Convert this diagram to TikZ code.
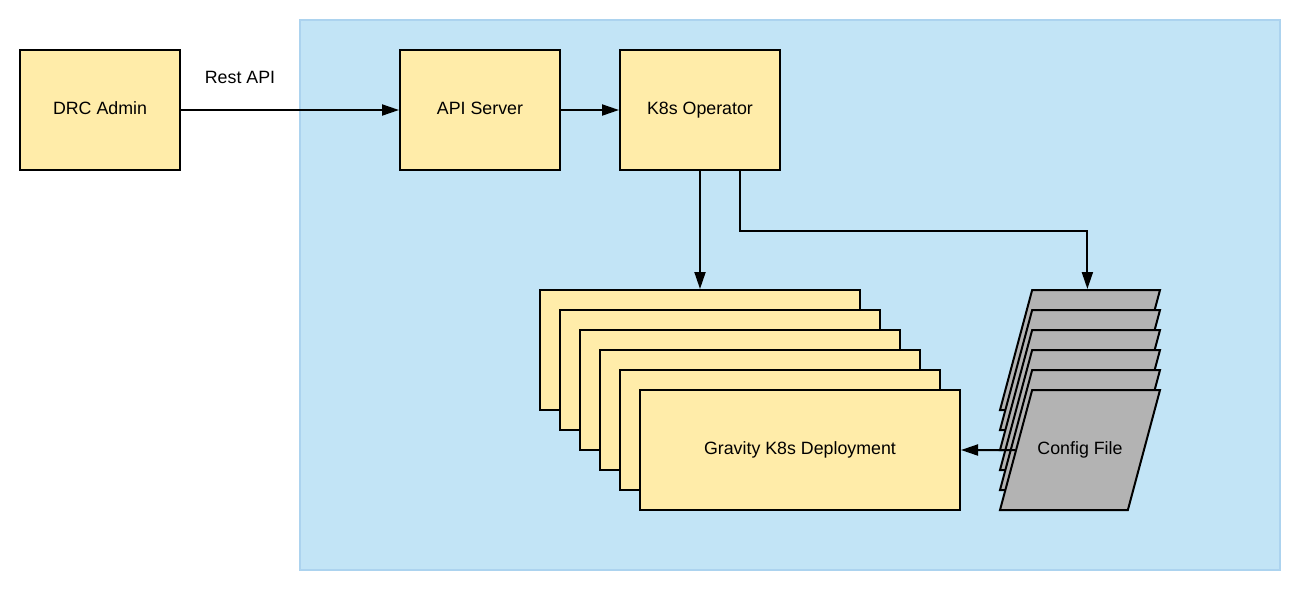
\documentclass[tikz,border=0pt]{standalone}
\usepackage{fontspec}
\setmainfont{Liberation Sans}
\usetikzlibrary{arrows.meta,positioning,shapes.geometric}

\definecolor{boxyellow}{HTML}{FFECA9}
\definecolor{cfggray}{HTML}{B3B3B3}
\definecolor{clusterfill}{HTML}{C2E4F6}
\definecolor{clusterdraw}{HTML}{ACD3EF}

\begin{document}
\begin{tikzpicture}[
    x=1pt, y=-1pt,
    node distance=58pt,
    font=\fontsize{17.8}{21}\selectfont,
    block/.style={rectangle, minimum width=160pt, minimum height=120pt,
      text height=13pt, text depth=5pt,
      line width=2pt, draw=black, fill=boxyellow},
    deploy/.style={block, minimum width=320pt},
    cfgfile/.style={trapezium, trapezium left angle=75, trapezium right angle=105,
      trapezium stretches body=true, minimum width=160pt,
      text height=13pt, text depth=5pt, inner ysep=51pt,
      line width=2pt, draw=black, fill=cfggray},
    flow/.style={-{Triangle[length=17pt, width=11pt]}, line width=2pt}
  ]

  \useasboundingbox (0,0) rectangle (1300,590);

  % the cluster in the background
  \node (cluster) [rectangle, minimum width=980pt, minimum height=550pt,
                   line width=2pt, draw=clusterdraw, fill=clusterfill] at (790,295) {};

  % layout the top row
  \node (admin)   [block] at (100,110)          {DRC Admin};
  \node (apisrv)  [block] at (480,110)          {API Server};
  \node (oper)    [block, right=of apisrv]      {K8s Operator};

  \node (restlbl) at (240,77)                   {Rest API};

  % stacked deployments and config files
  \foreach \i in {1,...,5} {
    \node (dep\i) [deploy]  at (680+20*\i, 330+20*\i) {};
  }
  \node (dep6)    [deploy]  at (800,450)        {Gravity K8s Deployment};

  \foreach \i in {1,...,5} {
    \node (cfg\i) [cfgfile] at (1080, 330+20*\i) {};
  }
  \node (cfg6)    [cfgfile] at (1080,450)       {Config File};

  \draw[flow] (admin)  -- (apisrv);
  \draw[flow] (apisrv) -- (oper);
  \draw[flow] (oper)   -- (dep1);
  \draw[flow] ([xshift=40pt]oper.south) -- ++(0,60) -| ([xshift=56pt]cfg1.top left corner);
  \draw[flow] (cfg6.west) -- (dep6.east);

\end{tikzpicture}
\end{document}
